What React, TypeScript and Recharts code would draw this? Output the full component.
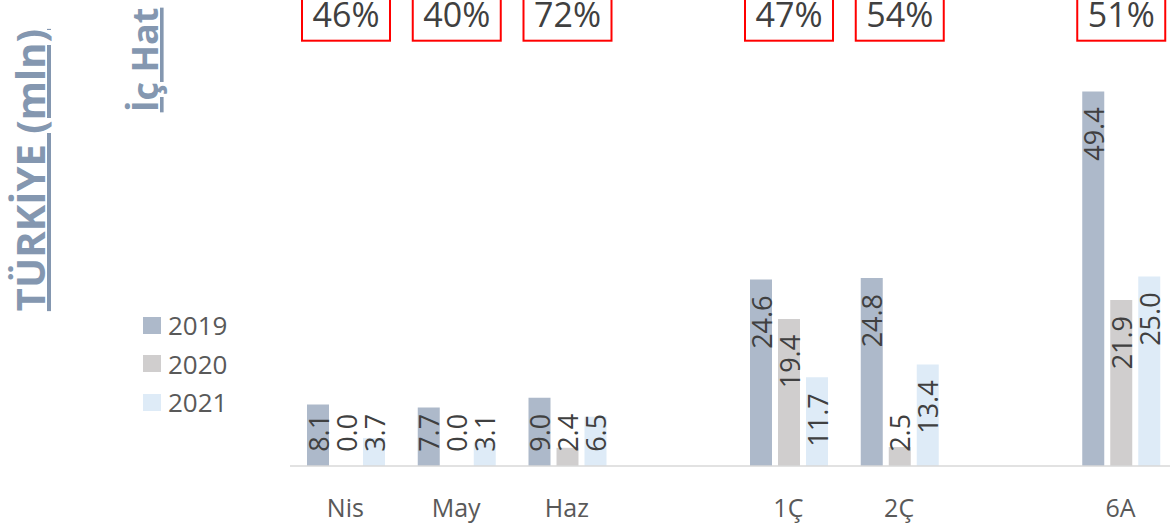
import React from "react";
import { BarChart, Bar, XAxis, YAxis, LabelList, Legend, Customized } from "recharts";

const categories = ["Nis", "May", "Haz", "", "1Ç", "2Ç", "", "6A"];
const y2019 = [8.1, 7.7, 9.0, null, 24.6, 24.8, null, 49.4];
const y2020 = [0.0, 0.0, 2.4, null, 19.4, 2.5, null, 21.9];
const y2021 = [3.7, 3.1, 6.5, null, 11.7, 13.4, null, 25.0];
const shares = ["46%", "40%", "72%", null, "47%", "54%", null, "51%"];

const data = categories.map((c, i) => ({
  cat: c,
  a: y2019[i],
  b: y2020[i],
  c: y2021[i],
  share: shares[i],
}));

const FONT = "'Open Sans', sans-serif";
const TITLE = "#8497B0";

function RotLabel(props: any) {
  const { x, y, width, height, value } = props;
  if (value === null || value === undefined) return null;
  const txt = Number(value).toFixed(1);
  const fs = 27;
  const L = txt.split("").reduce((s, ch) => s + (ch === "." ? 0.267 : 0.572), 0) * fs;
  const base = Number(y) + Number(height);
  let top = Number(y) + 16;
  if (top + L > base - 14) top = base - 14 - L;
  const cx = Number(x) + Number(width) / 2;
  return (
    <text
      transform={`translate(${cx},${top}) rotate(-90)`}
      textAnchor="end"
      dominantBaseline="central"
      fontFamily={FONT}
      fontSize={fs}
      fill="#404040"
    >
      {txt}
    </text>
  );
}

function ShareBox(props: any) {
  const { x, width, value } = props;
  if (!value) return null;
  const cx = Number(x) + Number(width) / 2;
  return (
    <g>
      <rect x={cx - 44} y={-10} width={88} height={50.7} fill="#fff" stroke="#FF0000" strokeWidth={2} />
      <text x={cx} y={26.5} textAnchor="middle" fontFamily={FONT} fontSize={34} fill="#404040">
        {value}
      </text>
    </g>
  );
}

function Titles() {
  return (
    <g>
      <text
        transform="translate(45,170) rotate(-90)"
        textAnchor="middle"
        fontFamily={FONT}
        fontWeight="bold"
        fontSize={40}
        fill={TITLE}
        textDecoration="underline"
      >
        TÜRKİYE (mln)
      </text>
      <text
        transform="translate(158,60) rotate(-90)"
        textAnchor="middle"
        fontFamily={FONT}
        fontWeight="bold"
        fontSize={36}
        fill={TITLE}
        textDecoration="underline"
      >
        İç Hat
      </text>
    </g>
  );
}

function LegendContent(props: any) {
  const { payload } = props;
  return (
    <div style={{ fontFamily: FONT }}>
      {(payload || []).map((p: any) => (
        <div key={p.value} style={{ display: "flex", alignItems: "center", height: 38.5 }}>
          <div style={{ width: 18, height: 17, background: p.color, marginRight: 7 }} />
          <span style={{ fontSize: 26, color: "#595959", lineHeight: "38.5px" }}>{p.value}</span>
        </div>
      ))}
    </div>
  );
}

export default function App() {
  return (
    <div style={{ position: "absolute", left: 0, top: 0, width: 1170, height: 527, overflow: "hidden", background: "#fff" }}>
      <BarChart
        width={1176}
        height={527}
        data={data}
        margin={{ top: 11, right: 0, left: 290, bottom: 0 }}
        barGap={6}
        barCategoryGap={17}
      >
        <XAxis
          dataKey="cat"
          height={61}
          axisLine={{ stroke: "#D9D9D9", strokeWidth: 1.5 }}
          tickLine={false}
          tickMargin={27}
          interval={0}
          tick={{ fontFamily: FONT, fontSize: 25, fill: "#595959" }}
        />
        <YAxis hide domain={[0, 60]} />
        <Legend
          layout="vertical"
          align="center"
          verticalAlign="middle"
          content={<LegendContent />}
          wrapperStyle={{ left: 143, top: 306, width: 120 }}
        />
        <Bar dataKey="a" name="2019" fill="#ADB9CA" isAnimationActive={false}>
          <LabelList dataKey="a" content={<RotLabel />} />
        </Bar>
        <Bar dataKey="b" name="2020" fill="#D0CECE" minPointSize={0.01} isAnimationActive={false}>
          <LabelList dataKey="b" content={<RotLabel />} />
          <LabelList dataKey="share" content={<ShareBox />} />
        </Bar>
        <Bar dataKey="c" name="2021" fill="#DEEBF7" isAnimationActive={false}>
          <LabelList dataKey="c" content={<RotLabel />} />
        </Bar>
        <Customized component={<Titles />} />
      </BarChart>
    </div>
  );
}
